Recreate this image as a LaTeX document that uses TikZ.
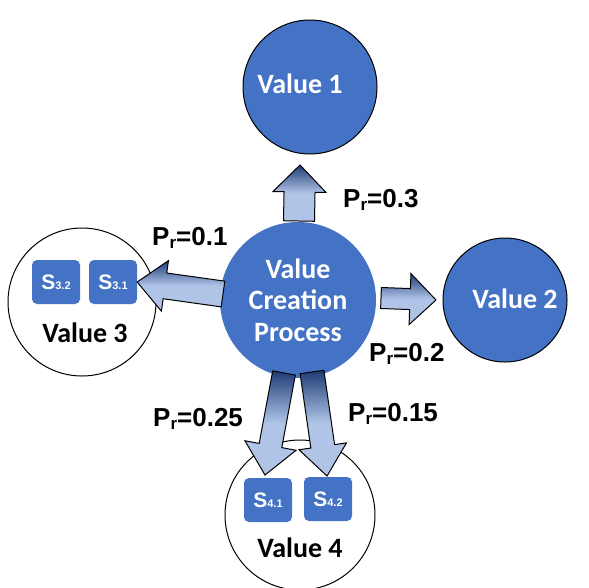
\documentclass[tikz,border=0pt]{standalone}
\usepackage{fontspec}
\setmainfont{Carlito}
\newfontfamily\arialfont{Liberation Sans}
\usetikzlibrary{calc}
\definecolor{valueblue}{HTML}{4472C4}
\definecolor{arrowdark}{HTML}{1F3C76}
\definecolor{arrowlight}{HTML}{AFC4E7}
\newcommand{\prob}[1]{P\raisebox{-3pt}{\fontsize{17}{17}\selectfont r}=#1}
\newcommand{\sval}[1]{S{\fontsize{11}{11}\selectfont #1}}
% block arrow: tail, tip, half shaft, half head, head length
\newcommand{\blockarrow}[5]{%
  \path ($(#2)!#5!(#1)$) coordinate (hb);
  \draw[blockarrow] ($(#1)!#3!90:(#2)$) -- ($(hb)!#3!90:(#2)$) -- ($(hb)!#4!90:(#2)$) -- (#2)
    -- ($(hb)!#4!-90:(#2)$) -- ($(hb)!#3!-90:(#2)$) -- ($(#1)!#3!-90:(#2)$) -- cycle;}

\begin{document}
\begin{tikzpicture}[x=1pt,y=-1pt]
\useasboundingbox (0,0) rectangle (589,587);
\tikzset{valuenode/.style={circle, fill=valueblue, draw=black, line width=1pt, minimum size=#1, inner sep=0},
  outcome/.style={circle, fill=white, draw=black, line width=1pt, minimum size=#1, inner sep=0},
  statebox/.style={rounded corners=5pt, fill=valueblue, minimum width=48pt, minimum height=44pt, inner sep=0,
    text=white, font=\arialfont\bfseries\fontsize{21}{21}\selectfont},
  valuetext/.style={anchor=base, inner sep=0, font=\bfseries\fontsize{28}{31.5}\selectfont},
  problabel/.style={anchor=base west, inner sep=0, font=\arialfont\bfseries\fontsize{26}{26}\selectfont},
  blockarrow/.style={draw=black, line width=1pt, top color=arrowdark, bottom color=arrowlight, middle color=arrowlight}}
% value circles
\node[valuenode=134pt] (value1) at (310,87) {};
\node[valuenode=124pt] (value2) at (505,300) {};
\node[outcome=148pt] (value3) at (82,302) {};
\node[outcome=150pt] (value4) at (300,515) {};
\node[valuenode=156pt, draw=none, align=center, text=white, font=\bfseries\fontsize{28}{31.5}\selectfont] (vcp) at (298,300) {Value\\Creation\\Process};
\node[valuetext, text=white] (v1text) at (300,93) {Value 1};
\node[valuetext, text=white] (v2text) at (515,308) {Value 2};
\node[valuetext] (v3text) at (85,342) {Value 3};
\node[valuetext] (v4text) at (300,557) {Value 4};
% states
\node[statebox] (s32) at (56,282) {\sval{3.2}};
\node[statebox] (s31) at (113,282) {\sval{3.1}};
\node[statebox] (s41) at (268,500) {\sval{4.1}};
\node[statebox] (s42) at (328,499) {\sval{4.2}};
% arrows
\coordinate (uptail) at (299,221);   \coordinate (uptip) at (300,165);
\coordinate (righttail) at (381,298); \coordinate (righttip) at (436,300);
\coordinate (lefttail) at (223,294);  \coordinate (lefttip) at (s31.east);
\coordinate (dltail) at (284,373);   \coordinate (dltip) at (265,475);
\coordinate (drtail) at (312,372);   \coordinate (drtip) at (327,476);
\blockarrow{uptail}{uptip}{15.5pt}{26.5pt}{27pt}
\blockarrow{righttail}{righttip}{10.5pt}{25.5pt}{26pt}
\blockarrow{lefttail}{lefttip}{13pt}{25.5pt}{28pt}
\blockarrow{drtail}{drtip}{12pt}{24pt}{30pt}
\blockarrow{dltail}{dltip}{11.5pt}{26pt}{30pt}
% probabilities
\node[problabel] (p1) at (343,207) {\prob{0.3}};
\node[problabel] (p3) at (152,245) {\prob{0.1}};
\node[problabel] (p2) at (369,361) {\prob{0.2}};
\node[problabel] (p41) at (153,426) {\prob{0.25}};
\node[problabel] (p42) at (348,421) {\prob{0.15}};
\end{tikzpicture}
\end{document}
